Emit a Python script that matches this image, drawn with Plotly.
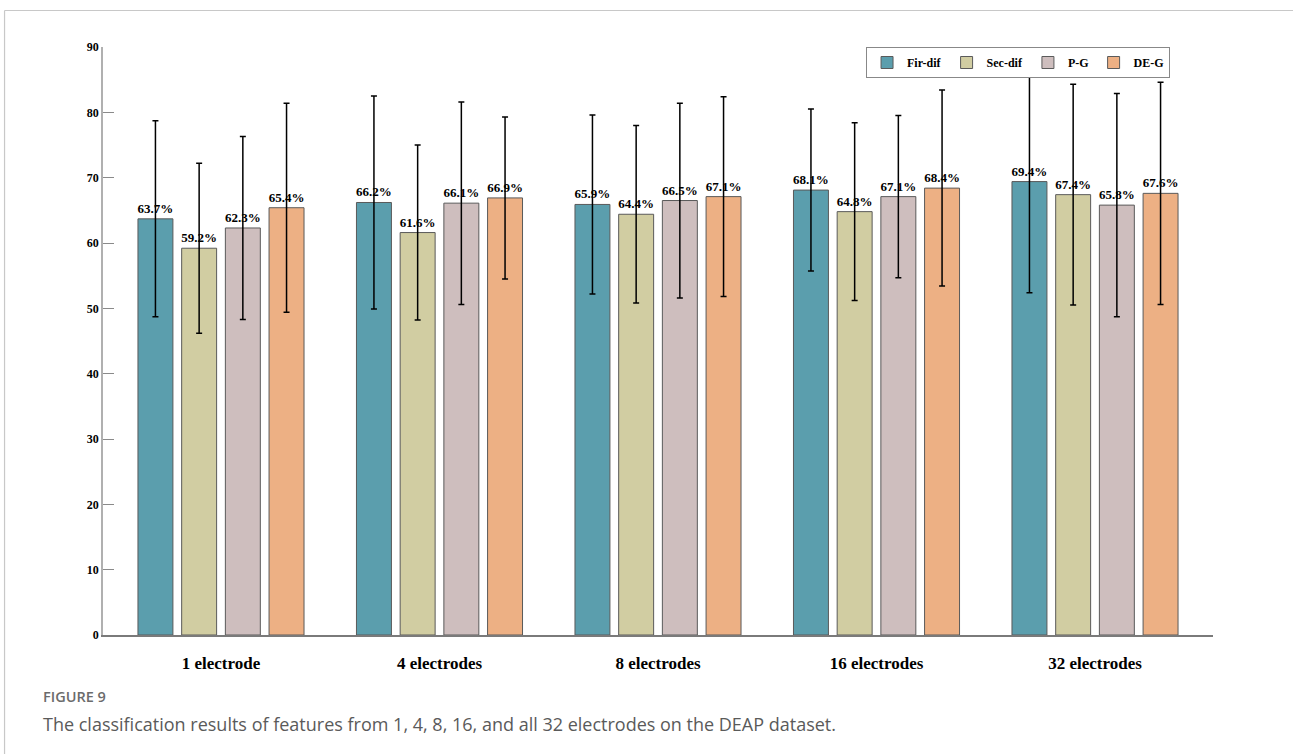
import plotly.graph_objects as go

# Electrode configurations (x-axis groups)
categories = ["1 electrode", "4 electrodes", "8 electrodes", "16 electrodes", "32 electrodes"]
group_pos = [1, 2, 3, 4, 5]

# Mean classification accuracy (%) per feature type
fir_dif = [63.7, 66.2, 65.9, 68.1, 69.4]
sec_dif = [59.2, 61.6, 64.4, 64.8, 67.4]
p_g = [62.3, 66.1, 66.5, 67.1, 65.8]
de_g = [65.4, 66.9, 67.1, 68.4, 67.6]

# Standard deviations
fir_dif_sd = [15.0, 16.3, 13.7, 12.4, 17.0]
sec_dif_sd = [13.0, 13.4, 13.6, 13.6, 16.9]
p_g_sd = [14.0, 15.5, 14.9, 12.4, 17.1]
de_g_sd = [16.0, 12.4, 15.3, 15.0, 17.0]

y_ticks = [0, 10, 20, 30, 40, 50, 60, 70, 80, 90]

series = [
    ("Fir-dif", fir_dif, fir_dif_sd, "#5B9EAD"),
    ("Sec-dif", sec_dif, sec_dif_sd, "#D1CDA2"),
    ("P-G", p_g, p_g_sd, "#CEBEBE"),
    ("DE-G", de_g, de_g_sd, "#EDB084"),
]

serif = "Liberation Serif"

fig = go.Figure()
for name, vals, sd, color in series:
    fig.add_trace(go.Bar(
        name=name,
        x=group_pos,
        y=vals,
        marker=dict(color=color, line=dict(color="#5a5a5a", width=1)),
        error_y=dict(type="data", array=sd, visible=True,
                     color="black", thickness=1.5, width=3),
        text=[f"{v:.1f}%" for v in vals],
        textposition="outside",
        constraintext="none",
        textfont=dict(family=serif, size=13, color="black", weight="bold"),
        cliponaxis=False,
    ))

# Figure frame lines (top and left)
fig.add_shape(type="line", xref="paper", yref="paper",
              x0=-0.0887, x1=1.08, y0=1.0621, y1=1.0621,
              line=dict(color="#c8c8c8", width=1.2))
fig.add_shape(type="line", xref="paper", yref="paper",
              x0=-0.0887, x1=-0.0887, y0=1.0621, y1=-0.21,
              line=dict(color="#c8c8c8", width=1.2))

# Caption
fig.add_annotation(xref="paper", yref="paper", x=-0.0555, y=-0.1054,
                   xanchor="left", yanchor="middle", showarrow=False,
                   text="FIGURE 9",
                   font=dict(family="Open Sans", size=14.5, color="#6b6b6b", weight=600))
fig.add_annotation(xref="paper", yref="paper", x=-0.0555, y=-0.1514,
                   xanchor="left", yanchor="middle", showarrow=False,
                   text="The classification results of features from 1, 4, 8, 16, and all 32 electrodes on the DEAP dataset.",
                   font=dict(family="Open Sans", size=18, color="#5a5a5a"))

fig.update_layout(
    width=1293, height=754,
    margin=dict(l=103, r=80, t=47, b=119),
    paper_bgcolor="white", plot_bgcolor="white",
    barmode="group", bargap=0.2, bargroupgap=0.2,
    showlegend=True,
    legend=dict(
        orientation="h", x=0.9613, xanchor="right", y=1.0, yanchor="top",
        bordercolor="#888888", borderwidth=1, bgcolor="white",
        font=dict(family=serif, size=12, color="black", weight="bold"),
        itemwidth=30, tracegroupgap=0, entrywidth=0,
    ),
    xaxis=dict(
        range=[0.46, 5.54],
        tickmode="array", tickvals=group_pos, ticktext=categories,
        tickfont=dict(family=serif, size=17, color="black", weight="bold"),
        ticks="", showgrid=False, zeroline=False,
        showline=True, linecolor="#7a7a7a", linewidth=1.5,
        ticklabelstandoff=12,
    ),
    yaxis=dict(
        range=[0, 90],
        tickmode="array", tickvals=y_ticks,
        tickfont=dict(family=serif, size=12, color="black", weight="bold"),
        ticks="inside", ticklen=11, tickcolor="#8a8a8a", tickwidth=1,
        showgrid=False, zeroline=False,
        showline=True, linecolor="#b0b0b0", linewidth=1.5,
    ),
)

fig.write_html("out.html")
